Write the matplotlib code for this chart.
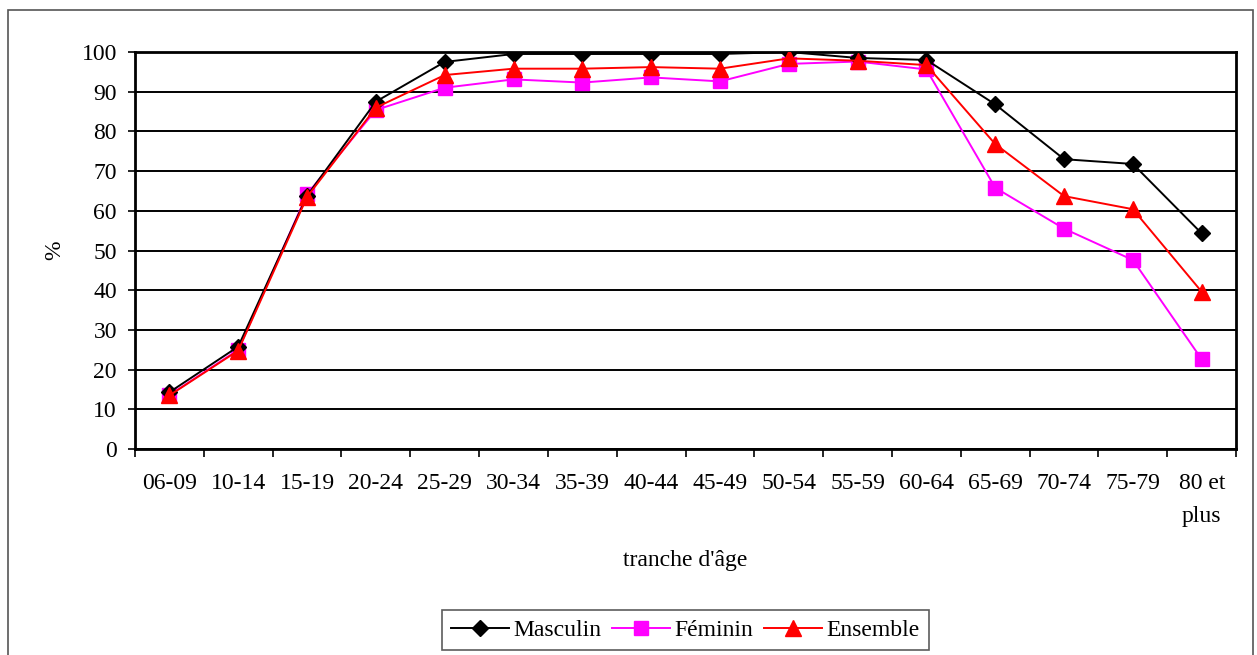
import matplotlib
matplotlib.use("Agg")
import matplotlib.pyplot as plt
import numpy as np
from matplotlib.patches import Rectangle

plt.rcParams['font.family'] = ['Liberation Serif', 'DejaVu Serif']

# tranches d'age
categories = ['06-09', '10-14', '15-19', '20-24', '25-29', '30-34', '35-39', '40-44',
              '45-49', '50-54', '55-59', '60-64', '65-69', '70-74', '75-79', '80 et\nplus']

# taux en %
masculin = [14.3, 25.8, 63.8, 87.5, 97.5, 99.5, 99.5, 99.5, 99.5, 100.0, 98.5, 98.0,
            86.8, 73.0, 71.8, 54.3]
feminin = [13.6, 25.0, 64.2, 85.4, 91.0, 93.1, 92.3, 93.6, 92.6, 97.0, 97.6, 95.6,
           65.8, 55.5, 47.6, 22.6]
ensemble = [13.5, 24.8, 63.5, 86.0, 94.2, 95.8, 95.8, 96.2, 95.8, 98.4, 97.8, 96.7,
            76.8, 63.7, 60.4, 39.6]

FS = 17

fig = plt.figure(figsize=(12.57, 6.55), dpi=100)
ax = fig.add_axes([0.1074, 0.3145, 0.876, 0.6061])

x = np.arange(len(categories))
ax.plot(x, masculin, color='black', lw=1.4, marker='D', ms=8, label='Masculin', zorder=5)
ax.plot(x, feminin, color='#ff00ff', lw=1.4, marker='s', ms=9.5, label='Féminin', zorder=4)
ax.plot(x, ensemble, color='#ff0000', lw=1.4, marker='^', ms=11, label='Ensemble', zorder=6)

ax.set_xlim(-0.5, len(categories) - 0.5)
ax.set_ylim(0, 100)
ax.set_yticks(np.arange(0, 101, 10))
ax.yaxis.grid(True, color='black', lw=1.4)
ax.set_axisbelow(True)

ax.set_xticks(x)
ax.set_xticklabels(categories, fontsize=FS, linespacing=1.8, va='top')
ax.set_xticks(np.arange(-0.5, len(categories), 1), minor=True)
ax.tick_params(axis='x', which='major', length=0, pad=17)
ax.tick_params(axis='x', which='minor', length=6, width=1.2, direction='out')
ax.tick_params(axis='y', length=5, width=1.2, labelsize=FS, pad=8)

for s in ax.spines.values():
    s.set_linewidth(2)
    s.set_color('black')

ax.set_xlabel("tranche d'âge", fontsize=FS, labelpad=16)
ax.set_ylabel('%', fontsize=FS, labelpad=12)

leg = ax.legend(loc='center', bbox_to_anchor=(0.5, -0.456), ncol=3, fontsize=FS,
                frameon=True, fancybox=False, edgecolor='#333333', handlelength=2.45,
                handletextpad=0.2, columnspacing=0.45, borderpad=0.4, borderaxespad=0)
leg.get_frame().set_linewidth(1.2)

# cadre exterieur
fig.patches.append(Rectangle((8 / 1257, -0.02), 1245 / 1257, 1 - 10 / 655 + 0.02,
                             transform=fig.transFigure, fill=False,
                             edgecolor='#555555', lw=1.2))

fig.savefig('out.png', dpi=100)
